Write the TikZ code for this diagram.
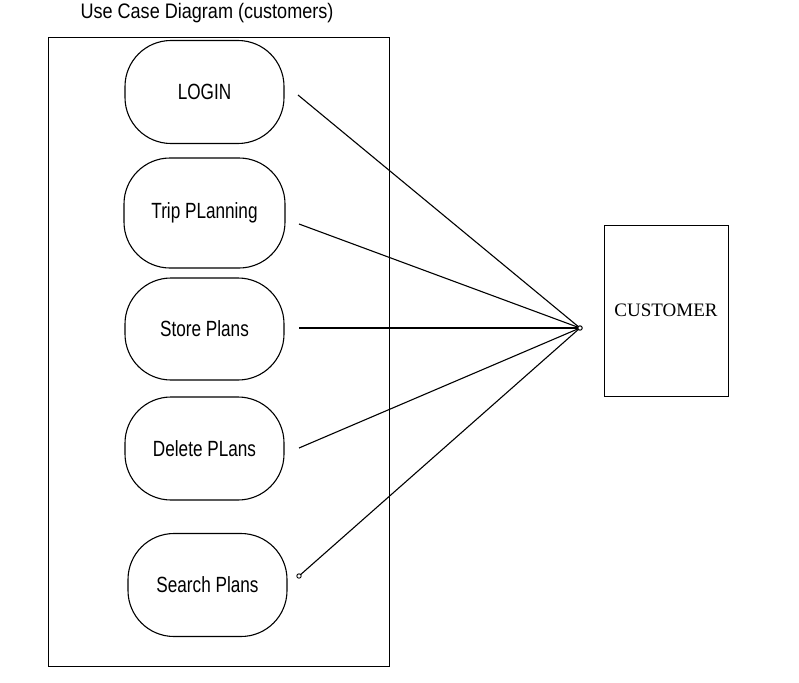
\documentclass[tikz,border=0pt]{standalone}
\usepackage{fontspec}
\setmainfont{Liberation Serif}
\newfontfamily\condsans[FakeStretch=0.78]{Liberation Sans}
\newfontfamily\titlesans[FakeStretch=0.86]{Liberation Sans}
\usetikzlibrary{calc}
\begin{document}
\begin{tikzpicture}[x=1pt,y=-1pt,
  usecase/.style={draw,line width=1.1pt,rounded corners=46pt,minimum width=159pt,minimum height=103pt,inner sep=0pt,font=\condsans\fontsize{22}{24}\selectfont},
  link/.style={line width=1.1pt},
  box/.style={draw,line width=1pt}]
\useasboundingbox (0,0) rectangle (799,682);
\node[font=\titlesans\fontsize{21}{24}\selectfont,anchor=center] (title) at (207,13) {Use Case Diagram (customers)};
\node[box,minimum width=341pt,minimum height=629pt,anchor=north west] (sys) at (48,37) {};
\node[usecase] (u1) at (204.5,92) {LOGIN};
\node[usecase,minimum width=161pt,minimum height=110pt] (u2) at (204.5,213) {Trip PLanning};
\node[usecase,minimum height=102pt] (u3) at (204.5,329) {Store Plans};
\node[usecase] (u4) at (204.5,448.5) {Delete PLans};
\node[usecase] (u5) at (207.5,585) {Search Plans};
\node[box,minimum width=124pt,minimum height=171pt,font=\fontsize{19}{22}\selectfont] (cust) at (666,310.5) {CUSTOMER};
\coordinate (hub) at (580,328);
\coordinate (e1) at (298,95);
\coordinate (e2) at (299,224);
\coordinate (e3) at (299,328);
\coordinate (e4) at (299,448);
\coordinate (e5) at (299,576);
\draw[link] (e1) -- (hub);
\draw[link] (e2) -- (hub);
\draw[link] (e3) -- (hub);
\draw[link] (e4) -- (hub);
\draw[link] (e5) -- (hub);
\draw[line width=1pt,fill=white] (hub) circle (2.2pt);
\draw[line width=0.9pt,fill=white] (e5) circle (2.2pt);
\end{tikzpicture}
\end{document}
